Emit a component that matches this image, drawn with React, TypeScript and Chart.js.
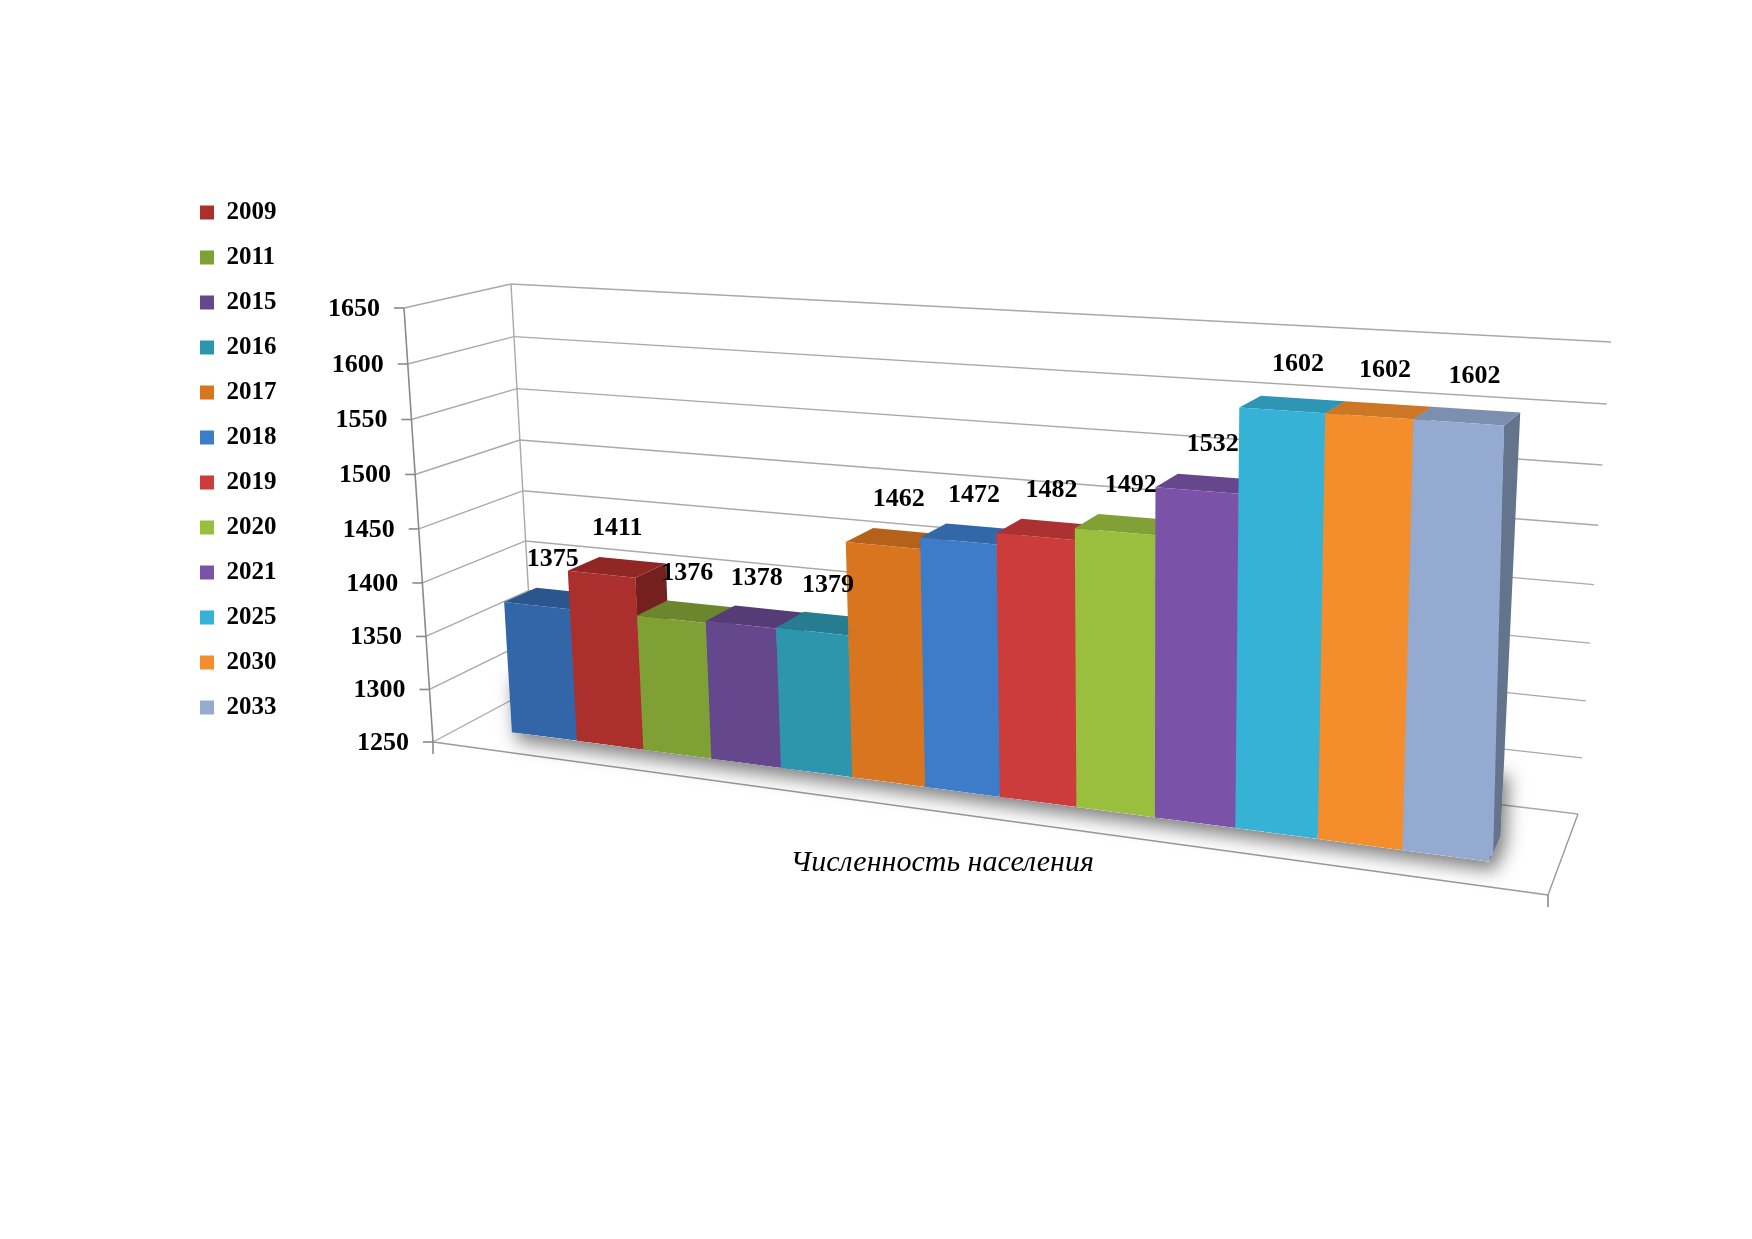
import { useEffect, useRef } from 'react';
import { Chart, registerables } from 'chart.js';

Chart.register(...registerables);

// ---------- data ----------
const categories = ['Численность населения'];
const seriesLabels = ['', '2009', '2011', '2015', '2016', '2017', '2018', '2019', '2020', '2021', '2025', '2030', '2033'];
const seriesValues = [1375, 1411, 1376, 1378, 1379, 1462, 1472, 1482, 1492, 1532, 1602, 1602, 1602];
const seriesColors = [
  '#3266a8', '#ab2f2c', '#7fa035', '#65478d', '#2d95ae', '#d9741f',
  '#3c7cc8', '#cc3c3a', '#9abf3f', '#7a53a8', '#35b2d6', '#f48d2c', '#95aad0',
];
const yTicks = [1250, 1300, 1350, 1400, 1450, 1500, 1550, 1600, 1650];
const yMin = 1250;
const yMax = 1650;

// ---------- layout / style ----------
const W = 1736;
const H = 1223;
const FONT = '"Liberation Serif", "Times New Roman", serif';
type Pt = [number, number];
// projected corners of the 3D plot box (canvas pixels)
const CUBE: Record<string, Pt> = {
  ftl: [396, 300], fbl: [425, 734], ftr: [1555, 370], fbr: [1540, 887],
  btl: [503, 276], bbl: [526, 680], btr: [1603, 334], bbr: [1570, 806],
};
const Z0 = 0.3;
const Z1 = 0.62;

function lerp(a: Pt, b: Pt, t: number): Pt {
  return [a[0] + (b[0] - a[0]) * t, a[1] + (b[1] - a[1]) * t];
}

function P(X: number, Y: number, Z: number): Pt {
  const p0 = lerp(CUBE.fbl, CUBE.bbl, Z);
  const p1 = lerp(CUBE.fbr, CUBE.bbr, Z);
  const p2 = lerp(CUBE.ftr, CUBE.btr, Z);
  const p3 = lerp(CUBE.ftl, CUBE.btl, Z);
  const dx1 = p1[0] - p2[0], dx2 = p3[0] - p2[0], dx3 = p0[0] - p1[0] + p2[0] - p3[0];
  const dy1 = p1[1] - p2[1], dy2 = p3[1] - p2[1], dy3 = p0[1] - p1[1] + p2[1] - p3[1];
  const den = dx1 * dy2 - dx2 * dy1;
  const g = (dx3 * dy2 - dx2 * dy3) / den;
  const h = (dx1 * dy3 - dx3 * dy1) / den;
  const a = p1[0] - p0[0] + g * p1[0], b = p3[0] - p0[0] + h * p3[0], c = p0[0];
  const d = p1[1] - p0[1] + g * p1[1], e = p3[1] - p0[1] + h * p3[1], f = p0[1];
  const w = g * X + h * Y + 1;
  return [(a * X + b * Y + c) / w, (d * X + e * Y + f) / w];
}

function shade(hex: string, f: number) {
  const n = parseInt(hex.slice(1), 16);
  const r = Math.round(((n >> 16) & 255) * f);
  const g = Math.round(((n >> 8) & 255) * f);
  const b = Math.round((n & 255) * f);
  return `rgb(${r},${g},${b})`;
}

function poly(ctx: CanvasRenderingContext2D, pts: Pt[]) {
  ctx.beginPath();
  ctx.moveTo(pts[0][0], pts[0][1]);
  for (let i = 1; i < pts.length; i++) ctx.lineTo(pts[i][0], pts[i][1]);
  ctx.closePath();
}

function seg(ctx: CanvasRenderingContext2D, a: Pt, b: Pt) {
  ctx.beginPath();
  ctx.moveTo(a[0], a[1]);
  ctx.lineTo(b[0], b[1]);
  ctx.stroke();
}

// affine so that flat point (u0,v0)->O, +1 along u -> ex, +1 along v -> ey
function setAffine(ctx: CanvasRenderingContext2D, dpr: number, O: Pt, u0: number, v0: number, ex: Pt, ey: Pt) {
  const a = ex[0], b = ex[1], c = ey[0], d = ey[1];
  const e = O[0] - a * u0 - c * v0;
  const f = O[1] - b * u0 - d * v0;
  ctx.setTransform(a * dpr, b * dpr, c * dpr, d * dpr, e * dpr, f * dpr);
}

const perspectivePlugin = {
  id: 'perspective3d',
  beforeDatasetsDraw(chart: any) {
    const ctx: CanvasRenderingContext2D = chart.ctx;
    const dpr = chart.currentDevicePixelRatio || 1;
    const xs = chart.scales.x;
    const ys = chart.scales.y;
    const nX = (u: number) => (u - xs.left) / (xs.right - xs.left);
    const nY = (val: number) => (val - yMin) / (yMax - yMin);
    const nYpx = (v: number) => nY(ys.getValueForPixel(v));

    const bars: any[] = [];
    chart.data.datasets.forEach((ds: any, i: number) => {
      if (!chart.isDatasetVisible(i)) return;
      const meta = chart.getDatasetMeta(i);
      const el = meta.data[0];
      if (!el) return;
      const { x, y, base, width } = el.getProps(['x', 'y', 'base', 'width'], true);
      const uL = x - width / 2, uR = x + width / 2;
      const vT = Math.min(y, base), vB = Math.max(y, base);
      bars.push({ i, meta, ds, uL, uR, vT, vB, XL: nX(uL), XR: nX(uR), YT: nYpx(vT), YB: nYpx(vB) });
    });

    ctx.save();
    ctx.setTransform(dpr, 0, 0, dpr, 0, 0);
    // walls grid
    ctx.lineWidth = 1.4;
    ctx.strokeStyle = '#a9a9a9';
    yTicks.forEach((t) => {
      const Y = nY(t);
      seg(ctx, P(0, Y, 0), P(0, Y, 1));
      seg(ctx, P(0, Y, 1), P(1, Y, 1));
    });
    seg(ctx, P(0, 0, 1), P(0, 1, 1));
    // floor
    ctx.strokeStyle = '#9a9a9a';
    seg(ctx, P(0, 0, 0), P(1, 0, 0));
    seg(ctx, P(1, 0, 0), P(1, 0, 1));
    // axis
    ctx.strokeStyle = '#8a8a8a';
    ctx.lineWidth = 1.6;
    seg(ctx, P(0, 0, 0), P(0, 1, 0));
    yTicks.forEach((t) => {
      const p = P(0, nY(t), 0);
      seg(ctx, p, [p[0] - 10, p[1]]);
    });
    const c0 = P(0, 0, 0), c1 = P(1, 0, 0);
    seg(ctx, c0, [c0[0], c0[1] + 12]);
    seg(ctx, c1, [c1[0], c1[1] + 12]);
    // tick labels
    ctx.fillStyle = '#000';
    ctx.font = `bold 26px ${FONT}`;
    ctx.textAlign = 'right';
    ctx.textBaseline = 'middle';
    yTicks.forEach((t) => {
      const p = P(0, nY(t), 0);
      ctx.fillText(String(t), p[0] - 24, p[1] + 1);
    });
    // category label
    ctx.font = `italic 30px ${FONT}`;
    ctx.textAlign = 'center';
    const cl = P(0.5, 0, 0);
    ctx.fillText(categories[0], cl[0] + 2, cl[1] + 52);
    // soft shadow on the floor
    if (bars.length) {
      const xa = bars[0].XL, xb = bars[bars.length - 1].XR;
      ctx.shadowColor = 'rgba(0,0,0,0.5)';
      ctx.shadowBlur = 18;
      ctx.shadowOffsetX = 5;
      ctx.shadowOffsetY = 9;
      ctx.fillStyle = '#ffffff';
      poly(ctx, [P(xa, 0, Z0), P(xb, 0, Z0), P(xb, 0, Z1), P(xb, 0.15, Z1), P(xa, 0.15, Z0)]);
      ctx.fill();
    }
    ctx.restore();

    // bars, left to right
    bars.forEach((b) => {
      const col = seriesColors[b.i];
      const TL = P(b.XL, b.YT, Z0), TR = P(b.XR, b.YT, Z0);
      const BL = P(b.XL, b.YB, Z0), BR = P(b.XR, b.YB, Z0);
      const TLb = P(b.XL, b.YT, Z1), TRb = P(b.XR, b.YT, Z1), BRb = P(b.XR, b.YB, Z1);
      ctx.save();
      ctx.setTransform(dpr, 0, 0, dpr, 0, 0);
      ctx.fillStyle = shade(col, 0.68);
      poly(ctx, [BR, TR, TRb, BRb]);
      ctx.fill();
      ctx.fillStyle = shade(col, 0.84);
      poly(ctx, [TL, TR, TRb, TLb]);
      ctx.fill();
      ctx.restore();

      const w = b.uR - b.uL, h = b.vB - b.vT;
      if (w <= 0 || h <= 0) return;
      // pass 1: exact at TL, TR, BL
      ctx.save();
      setAffine(ctx, dpr, TL, b.uL, b.vT,
        [(TR[0] - TL[0]) / w, (TR[1] - TL[1]) / w],
        [(BL[0] - TL[0]) / h, (BL[1] - TL[1]) / h]);
      b.meta.controller.draw();
      ctx.restore();
      // pass 2: exact at BR, BL, TR, clipped to that triangle
      ctx.save();
      ctx.setTransform(dpr, 0, 0, dpr, 0, 0);
      poly(ctx, [TR, BR, BL]);
      ctx.clip();
      setAffine(ctx, dpr, BR, b.uR, b.vB,
        [(BR[0] - BL[0]) / w, (BR[1] - BL[1]) / w],
        [(BR[0] - TR[0]) / h, (BR[1] - TR[1]) / h]);
      b.meta.controller.draw();
      ctx.restore();
    });

    // data labels
    ctx.save();
    ctx.setTransform(dpr, 0, 0, dpr, 0, 0);
    ctx.fillStyle = '#000';
    ctx.font = `bold 26px ${FONT}`;
    ctx.textAlign = 'center';
    ctx.textBaseline = 'middle';
    bars.forEach((b) => {
      const p = P((b.XL + b.XR) / 2, b.YT, Z0);
      ctx.fillText(String(b.ds.data[0]), p[0] + 16, p[1] - 46);
    });
    ctx.restore();
    return false;
  },
};

export default function App() {
  const ref = useRef<HTMLCanvasElement>(null);
  useEffect(() => {
    if (!ref.current) return;
    const chart = new Chart(ref.current, {
      type: 'bar',
      data: {
        labels: categories,
        datasets: seriesValues.map((v, i) => ({
          label: seriesLabels[i],
          data: [v],
          base: yMin,
          backgroundColor: seriesColors[i],
          borderWidth: 0,
          categoryPercentage: 0.895,
          barPercentage: 1,
          clip: false as any,
        })),
      },
      options: {
        responsive: false,
        animation: false,
        layout: { padding: { left: 172, top: 172, right: 20, bottom: 20 } },
        plugins: {
          legend: {
            position: 'left',
            align: 'start',
            labels: {
              color: '#000',
              font: { family: FONT, size: 25, weight: 'bold' },
              boxWidth: 14,
              boxHeight: 14,
              padding: 20,
              filter: (item: any) => item.text !== '',
              sort: (a: any, b: any) => a.datasetIndex - b.datasetIndex,
            },
          },
          tooltip: { enabled: false },
        },
        scales: {
          x: { display: false },
          y: { display: false, min: yMin, max: yMax },
        },
      },
      plugins: [perspectivePlugin as any],
    });
    return () => chart.destroy();
  }, []);
  return (
    <div style={{ width: W, height: H }}>
      <canvas ref={ref} width={W} height={H} style={{ display: 'block' }} />
    </div>
  );
}
